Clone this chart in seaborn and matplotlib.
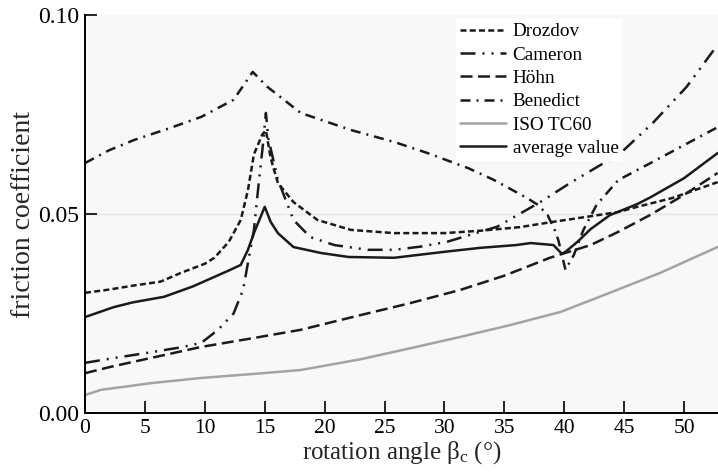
import numpy as np
import pandas as pd
import matplotlib
matplotlib.use("Agg")
import matplotlib.pyplot as plt
import seaborn as sns

# ---------------- data ----------------
drozdov_x = [0, 2, 4, 6.3, 8, 10, 10.8, 12, 13, 13.6, 14.1, 14.8, 15.1, 15.5, 16.1, 17.4, 19.4, 22.2,
             25.8, 30, 33, 36.3, 39, 41.9, 44.5, 46.1, 49, 52.8]
drozdov_y = [0.0302, 0.0310, 0.0320, 0.0330, 0.0352, 0.0375, 0.0390, 0.0430, 0.0485, 0.0560, 0.0650,
             0.0700, 0.0710, 0.0640, 0.0578, 0.0530, 0.0485, 0.0460, 0.0452, 0.0452, 0.0458, 0.0467,
             0.0480, 0.0493, 0.0505, 0.0518, 0.0540, 0.0580]

cameron_x = [0, 2, 4.1, 6, 8, 9.7, 11.1, 12.4, 13.2, 13.6, 14.1, 14.5, 14.8, 15.1, 15.3, 16.1, 17.4,
             18.8, 20.8, 23.6, 25.8, 28, 30.2, 34.4, 38, 40.5, 44.7, 47.4, 50.2, 52.8]
cameron_y = [0.0126, 0.0136, 0.0146, 0.0155, 0.0165, 0.0176, 0.0209, 0.0250, 0.0310, 0.0377, 0.0460,
             0.0578, 0.0660, 0.0754, 0.0690, 0.0586, 0.0485, 0.0442, 0.0422, 0.0410, 0.0410, 0.0418,
             0.0430, 0.0468, 0.0530, 0.0578, 0.0653, 0.0729, 0.0819, 0.0925]

hohn_x = [0, 2, 5, 9.7, 14, 18, 23, 27, 31.3, 35, 38.8, 42.2, 44.5, 47.2, 50, 52.8]
hohn_y = [0.0100, 0.0115, 0.0135, 0.0166, 0.0188, 0.0209, 0.0246, 0.0275, 0.0309, 0.0345, 0.0390,
          0.0422, 0.0455, 0.0498, 0.0548, 0.0603]

benedict_x = [0, 2, 4.1, 7, 9.7, 12.4, 14, 15.2, 18, 22.2, 25.8, 28.6, 32, 34.1, 36.9, 37.8, 38.6,
              39.2, 39.5, 40.1, 40.8, 41.6, 42.7, 44.5, 47.2, 50, 52.8]
benedict_y = [0.0628, 0.0660, 0.0686, 0.0715, 0.0744, 0.0787, 0.0857, 0.0820, 0.0754, 0.0711, 0.0681,
              0.0653, 0.0615, 0.0586, 0.0540, 0.0523, 0.0498, 0.0460, 0.0435, 0.0360, 0.0397, 0.0460,
              0.0523, 0.0585, 0.0628, 0.0673, 0.0718]

iso_x = [0, 1.3, 5.5, 9.7, 14, 18, 23, 27.2, 31.3, 35.5, 39.7, 43.8, 48, 52.8]
iso_y = [0.0045, 0.0058, 0.0075, 0.0088, 0.0098, 0.0108, 0.0135, 0.0163, 0.0191, 0.0221, 0.0254,
         0.0302, 0.0352, 0.0417]

avg_x = [0, 2.4, 4, 6.6, 9, 10.8, 12, 13, 13.6, 14.1, 15, 15.5, 16.1, 17.4, 19.7, 22, 25.8, 30, 33,
         36, 37.2, 39.1, 39.8, 40.1, 41.1, 42.2, 43.8, 46.1, 47.2, 50, 52.8]
avg_y = [0.0241, 0.0266, 0.0278, 0.0292, 0.0318, 0.0342, 0.0358, 0.0372, 0.0410, 0.0452, 0.0518,
         0.0480, 0.0452, 0.0417, 0.0402, 0.0392, 0.0390, 0.0405, 0.0415, 0.0422, 0.0427, 0.0422,
         0.0400, 0.0405, 0.0430, 0.0462, 0.0497, 0.0525, 0.0542, 0.0590, 0.0653]

series_names = ["Drozdov", "Cameron", "Höhn", "Benedict", "ISO TC60", "average value"]
x_ticks = [0, 5, 10, 15, 20, 25, 30, 35, 40, 45, 50]
y_ticks = [0.00, 0.05, 0.10]
x_label = r"rotation angle $\mathrm{\beta_c}$ (°)"
y_label = "friction coefficient"

# ---------------- build long-form table ----------------
xs = [drozdov_x, cameron_x, hohn_x, benedict_x, iso_x, avg_x]
ys = [drozdov_y, cameron_y, hohn_y, benedict_y, iso_y, avg_y]
frames = []
for name, x, y in zip(series_names, xs, ys):
    frames.append(pd.DataFrame({"angle": x, "mu": y, "series": name}))
df = pd.concat(frames, ignore_index=True)

# ---------------- style ----------------
sns.set_theme(style="white")
plt.rcParams["font.family"] = ["Liberation Serif", "DejaVu Serif"]
plt.rcParams["mathtext.fontset"] = "custom"
plt.rcParams["mathtext.rm"] = "Liberation Serif"
plt.rcParams["mathtext.it"] = "Liberation Serif:italic"

ink = "#1a1a1a"
palette = {"Drozdov": ink, "Cameron": ink, "Höhn": ink, "Benedict": ink,
           "ISO TC60": "#a3a3a3", "average value": ink}
dashes = {"Drozdov": (2.4, 1.3),
          "Cameron": (6, 2.8, 0.8, 2.8, 0.8, 2.8),
          "Höhn": (4.8, 2.2),
          "Benedict": (4, 2.4, 0.8, 2.4),
          "ISO TC60": "",
          "average value": ""}

fig = plt.figure(figsize=(7.18, 4.73), dpi=100)
ax = fig.add_axes([85 / 718, 60 / 473, 1 - 85 / 718, (413 - 15) / 473])
ax.set_facecolor("#f8f8f8")

sns.lineplot(data=df, x="angle", y="mu", hue="series", style="series",
             hue_order=series_names, style_order=series_names,
             palette=palette, dashes=dashes, estimator=None, sort=False,
             linewidth=1.8, ax=ax)

ax.axhline(0.05, color="#e6e6e6", lw=1.0, zorder=0)

ax.set_xlim(0, (718 - 84) / 12)
ax.set_ylim(0, 0.10)
ax.set_xticks(x_ticks)
ax.set_yticks(y_ticks)
ax.set_yticklabels([f"{v:.2f}" for v in y_ticks])
ax.tick_params(direction="in", length=8.5, width=1.2, colors="black", pad=5,
               left=True, bottom=True)
ax.tick_params(axis="x", labelsize=15.5, pad=4)
ax.tick_params(axis="y", labelsize=17, pad=4)
for s in ["top", "right"]:
    ax.spines[s].set_visible(False)
for s in ["left", "bottom"]:
    ax.spines[s].set_color("black")
    ax.spines[s].set_linewidth(1.4)

ax.set_xlabel(x_label, fontsize=18, labelpad=1)
ax.set_ylabel(y_label, fontsize=20, labelpad=2)

handles, labels = ax.get_legend_handles_labels()
leg = ax.legend(handles, labels, loc="upper left",
                bbox_to_anchor=(456 / 718, 1 - 19 / 473), bbox_transform=fig.transFigure,
                frameon=True, facecolor="white", edgecolor="none", framealpha=1,
                fancybox=False, fontsize=13.8, handlelength=2.4, handletextpad=0.35,
                labelspacing=0.31, borderpad=0.2, borderaxespad=0)
for t in leg.get_texts():
    t.set_color("black")

fig.savefig("out.png", dpi=100)
